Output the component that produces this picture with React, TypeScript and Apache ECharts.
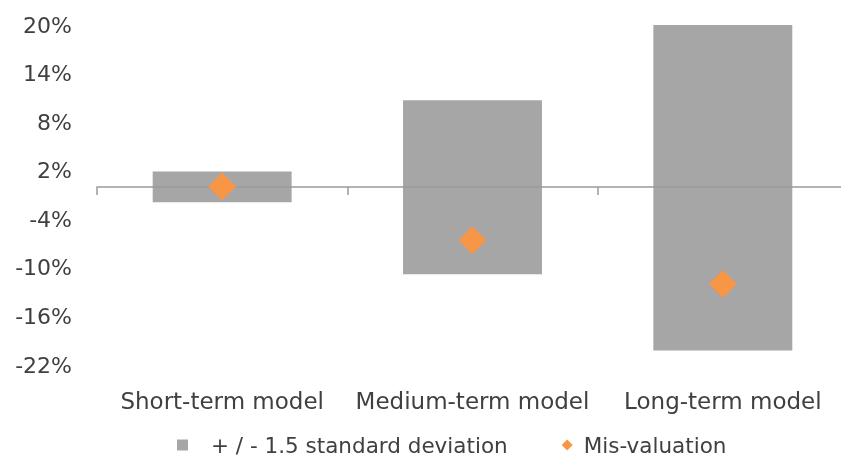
import React, { useEffect, useRef } from "react";
import * as echarts from "echarts";

const categories = ["Short-term model", "Medium-term model", "Long-term model"];
const lowerBand = [-1.9, -10.8, -20.2];
const upperBand = [1.9, 10.7, 20.2];
const misValuation = [0.05, -6.6, -12.0];
const yTicks = [-22, -16, -10, -4, 2, 8, 14, 20];
const bandName = "+ / - 1.5 standard deviation";
const misName = "Mis-valuation";

const FONT = "DejaVu Sans";
const TEXT = "#404040";
const GRAY = "#A6A6A6";
const ORANGE = "#F79646";

export default function App() {
  const ref = useRef<HTMLDivElement>(null);
  useEffect(() => {
    if (!ref.current) return;
    const chart = echarts.init(ref.current, undefined, { renderer: "svg" });
    chart.setOption({
      animation: false,
      textStyle: { fontFamily: FONT, color: TEXT },
      grid: { left: 97, top: 25, width: 751, height: 340, containLabel: false },
      legend: {
        top: 434,
        left: 177,
        padding: 0,
        itemGap: 54,
        itemWidth: 11,
        itemHeight: 11,
        textStyle: { fontFamily: FONT, fontSize: 21.5, lineHeight: 20, color: TEXT },
        data: [
          { name: bandName, icon: "rect", textStyle: { padding: [0, 0, 0, 18] } },
          { name: misName, icon: "diamond", textStyle: { padding: [0, 0, 0, 6] } },
        ],
      },
      xAxis: [
        {
          type: "category",
          data: categories,
          position: "bottom",
          axisLine: { show: false, onZero: false },
          axisTick: { show: false },
          axisLabel: { fontFamily: FONT, fontSize: 23, color: TEXT, margin: 24, interval: 0, hideOverlap: false },
          splitLine: { show: false },
        },
        {
          type: "category",
          data: categories,
          position: "bottom",
          z: 3,
          axisLine: { show: true, onZero: true, lineStyle: { color: "#9A9A9A", width: 1.5 } },
          axisTick: { show: true, alignWithLabel: false, length: 8, lineStyle: { color: "#9A9A9A", width: 1.5 } },
          axisLabel: { show: false },
          splitLine: { show: false },
        },
      ],
      yAxis: {
        type: "value",
        min: -22,
        max: 20,
        axisLine: { show: false },
        axisTick: { show: false },
        splitLine: { show: false },
        axisLabel: {
          customValues: yTicks,
          formatter: (v: number) => `${v}%`,
          fontFamily: FONT,
          fontSize: 22,
          color: TEXT,
          margin: 25,
        },
      },
      series: [
        {
          name: bandName,
          type: "bar",
          stack: "band",
          barWidth: "55.5%",
          itemStyle: { color: GRAY },
          data: lowerBand,
          z: 2,
        },
        {
          name: bandName,
          type: "bar",
          stack: "band",
          barWidth: "55.5%",
          itemStyle: { color: GRAY },
          data: upperBand,
          z: 2,
        },
        {
          name: misName,
          type: "scatter",
          symbol: "diamond",
          symbolSize: 28,
          itemStyle: { color: ORANGE, opacity: 1 },
          data: misValuation,
          z: 5,
        },
      ],
    });
    return () => chart.dispose();
  }, []);
  return (
    <div style={{ position: "fixed", left: 0, top: 0, width: 841, height: 458, overflow: "hidden" }}>
      <div ref={ref} style={{ width: 860, height: 458 }} />
    </div>
  );
}
